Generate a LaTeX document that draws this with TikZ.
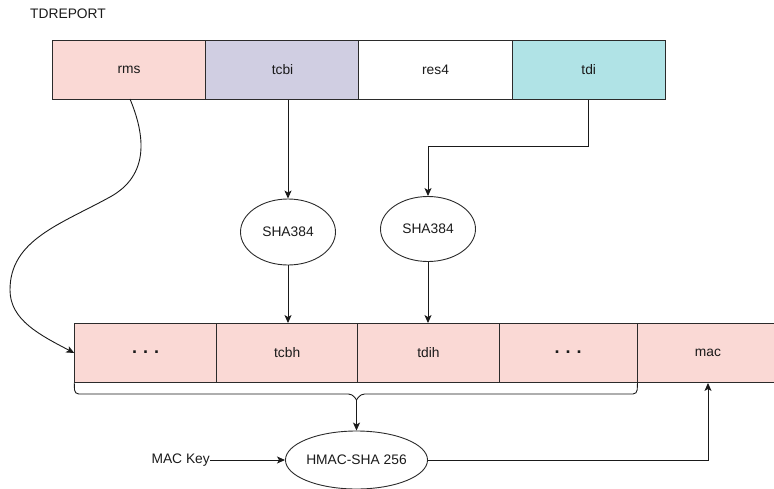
\documentclass[tikz,border=0pt]{standalone}
\usepackage{fontspec}
\setmainfont{Liberation Sans}
\usetikzlibrary{shapes.geometric,arrows.meta}

\definecolor{pinkfill}{HTML}{FAD9D5}
\definecolor{lilacfill}{HTML}{D0CEE2}
\definecolor{tealfill}{HTML}{B0E3E6}
\definecolor{edge}{HTML}{2B2B2B}
\definecolor{ink}{HTML}{1A1A1A}

\newcommand{\spaceddots}{\raisebox{1.5pt}{\textbf{.}\hspace{6pt}\textbf{.}\hspace{6pt}\textbf{.}}}

\tikzset{
  field/.style={draw=edge, line width=0.9pt, rectangle, inner sep=0pt,
    minimum height=59pt, text=ink, font=\fontsize{13.8}{16}\selectfont},
  hashop/.style={draw=edge, line width=0.9pt, ellipse, inner sep=0pt,
    text=ink, font=\fontsize{13.8}{16}\selectfont},
  label/.style={inner sep=0pt, text=ink, font=\fontsize{13.8}{16}\selectfont},
  flow/.style={draw=ink, line width=0.9pt, -{Stealth[length=8pt,width=7pt,inset=2pt]}},
  dotsfont/.style={font=\fontsize{18}{20}\selectfont}
}

\begin{document}
\begin{tikzpicture}[x=1pt,y=-1pt]
  \useasboundingbox (0,0) rectangle (774,488);
  \clip (0,0) rectangle (774,488);

  % report title
  \node[label, anchor=west] (title) at (30,14) {TDREPORT};

  % TDREPORT fields
  \node[field, fill=pinkfill,  minimum width=153.5pt] (rms)  at (129,70)   {rms};
  \node[field, fill=lilacfill, minimum width=153.5pt] (tcbi) at (282.5,70) {tcbi};
  \node[field, fill=white,     minimum width=153.5pt] (res4) at (435.5,70) {res4};
  \node[field, fill=tealfill,  minimum width=153.5pt] (tdi)  at (588.7,70) {tdi};

  % hash operations
  \node[hashop, minimum width=95pt, minimum height=66pt] (sha1) at (288,232) {SHA384};
  \node[hashop, minimum width=95pt, minimum height=65pt] (sha2) at (428,229) {SHA384};

  % MAC structure fields (the last one runs past the right edge)
  \node[field, fill=pinkfill, minimum width=142pt, dotsfont] (d1)   at (145.7,353) {\spaceddots};
  \node[field, fill=pinkfill, minimum width=141pt]           (tcbh) at (287.2,353) {tcbh};
  \node[field, fill=pinkfill, minimum width=141.6pt]         (tdih) at (428.5,353) {tdih};
  \node[field, fill=pinkfill, minimum width=137.7pt, dotsfont] (d2) at (568.2,353) {\spaceddots};
  \node[field, fill=pinkfill, minimum width=150pt]           (mac)  at (712,353)   {};
  \node[label] (macname) at (708,353) {mac};

  % HMAC and its key
  \node[hashop, minimum width=129pt, minimum height=58pt] (hmac) at (356.5,460) {HMAC-SHA 256};
  \node[label, anchor=east] (key) at (210,460) {MAC Key};

  % hashing paths
  \draw[flow] (tcbi.south -| sha1.north) -- (sha1.north);
  \draw[flow] (sha1.south) -- (sha1.south |- tcbh.north);
  \draw[flow] (tdi.south) |- (428,146) -- (sha2.north);
  \draw[flow] (sha2.south) -- (sha2.south |- tdih.north);

  % rms copied straight into the MAC structure
  \draw[flow] (130,99) .. controls (145,135) and (150,175) .. (110,197)
              .. controls (60,224.5) and (10,240) .. (10,290)
              .. controls (10,320) and (40,335) .. (d1.west);

  % brace over the MACed fields
  \coordinate (bracetip) at (356.5,400);
  \draw[draw=ink, line width=0.9pt, rounded corners=4pt]
    (d1.south west) -- (74.7,394) -- (352.5,394) -- (bracetip);
  \draw[draw=ink, line width=0.9pt, rounded corners=4pt]
    (d2.south east) -- (637,394) -- (360.5,394) -- (bracetip);
  \draw[flow] (bracetip) -- (hmac.north);

  % key in, MAC out
  \draw[flow] (key.east) -- (hmac.west);
  \draw[flow] (hmac.east) -| (macname.south |- mac.south);
\end{tikzpicture}
\end{document}
